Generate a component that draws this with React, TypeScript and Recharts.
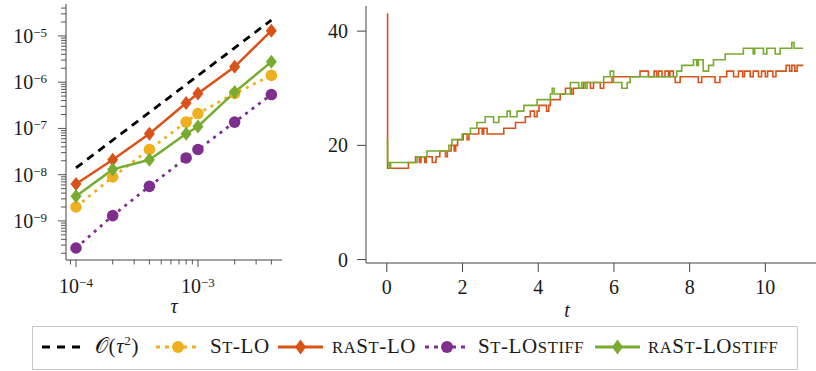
import React from "react";
import { Line, LineChart, XAxis, YAxis } from "recharts";

const SERIF = '"Liberation Serif", "Times New Roman", serif';
const AXIS = "#444";
const INK = "#1a1a1a";
const ORANGE = "#EDB120";
const RED = "#D95319";
const PURPLE = "#7E2F8E";
const GREEN = "#77AC30";

// left panel: error vs step size
const tauValues = [1e-4, 2e-4, 4e-4, 8e-4, 1e-3, 2e-3, 4e-3];
const stLo = [2.0e-9, 8.9e-9, 3.5e-8, 1.37e-7, 2.1e-7, 5.7e-7, 1.4e-6];
const raStLo = [6.3e-9, 2.1e-8, 7.7e-8, 3.55e-7, 5.7e-7, 2.15e-6, 1.3e-5];
const stLoStiff = [2.6e-10, 1.3e-9, 5.6e-9, 2.3e-8, 3.5e-8, 1.37e-7, 5.4e-7];
const raStLoStiff = [3.4e-9, 1.3e-8, 2.1e-8, 7.7e-8, 1.1e-7, 6.1e-7, 2.75e-6];
const refTau = [1e-4, 4e-3];
const refOrder2 = [1.4e-8, 2.2e-5];

const tauMajor = [1e-4, 1e-3];
const errMajor = [1e-9, 1e-8, 1e-7, 1e-6, 1e-5];

// right panel: step histories [t, value]
const raStLoHistory: [number, number][] = [
  [0, 43], [0.02, 16], [0.57, 17], [0.76, 18], [0.86, 17], [0.9, 18], [1.0, 17],
  [1.04, 18], [1.2, 17], [1.3, 18], [1.4, 19], [1.55, 18], [1.6, 19], [1.7, 20],
  [1.78, 19], [1.82, 20], [1.87, 21], [2.02, 22], [2.12, 21], [2.17, 22], [2.43, 23],
  [2.52, 22], [2.56, 23], [2.65, 22], [3.09, 23], [3.4, 24], [3.66, 25], [3.79, 26],
  [3.9, 25], [3.97, 26], [4.02, 27], [4.22, 26], [4.28, 27], [4.32, 28], [4.58, 29],
  [4.72, 30], [4.88, 29], [4.93, 30], [5.2, 31], [5.38, 30], [5.46, 31], [5.64, 30],
  [5.73, 31], [5.95, 32], [6.69, 33], [6.91, 32], [7.06, 33], [7.13, 32], [7.18, 33],
  [7.27, 32], [7.35, 33], [7.44, 32], [7.48, 33], [7.57, 32], [7.62, 31], [7.75, 32],
  [8.23, 31], [8.32, 32], [8.67, 31], [8.8, 32], [8.98, 33], [9.16, 32], [9.29, 33],
  [9.4, 32], [9.45, 33], [9.6, 32], [9.68, 33], [9.82, 32], [9.9, 33], [10.0, 32],
  [10.06, 33], [10.2, 32], [10.28, 33], [10.55, 34], [10.64, 33], [10.7, 34],
  [10.78, 33], [10.84, 34], [11.0, 34],
];
const raStLoStiffHistory: [number, number][] = [
  [0, 21], [0.02, 17], [0.06, 16], [0.1, 17], [0.8, 18], [1.06, 19], [1.64, 20],
  [1.72, 21], [1.99, 22], [2.21, 23], [2.38, 24], [2.6, 25], [2.82, 24], [2.96, 25],
  [3.18, 26], [3.26, 25], [3.44, 26], [3.62, 27], [3.97, 28], [4.32, 29], [4.37, 30],
  [4.42, 29], [4.85, 31], [5.07, 30], [5.15, 31], [5.24, 30], [5.29, 31], [5.73, 32],
  [5.9, 33], [5.99, 31], [6.21, 30], [6.35, 31], [6.43, 32], [7.66, 33], [7.79, 34],
  [8.1, 35], [8.19, 34], [8.23, 35], [8.36, 33], [8.5, 34], [8.63, 35], [8.94, 36],
  [9.42, 37], [9.68, 36], [9.72, 37], [9.95, 36], [10.04, 37], [10.26, 36],
  [10.39, 37], [10.7, 38], [10.76, 37], [11.0, 37],
];
const tTicks = [0, 2, 4, 6, 8, 10];
const countTicks = [0, 20, 40];

const convergenceRows = tauValues.map((tau, i) => ({
  tau,
  stLo: stLo[i],
  raStLo: raStLo[i],
  stLoStiff: stLoStiff[i],
  raStLoStiff: raStLoStiff[i],
}));
const refRows = refTau.map((tau, i) => ({ tau, ref: refOrder2[i] }));
const toRows = (h: [number, number][]) => h.map(([t, v]) => ({ t, v }));

const withMinors = (majors: number[], lo: number, hi: number) => {
  const out: number[] = [];
  [majors[0] / 10, ...majors].forEach((m) => {
    for (let k = 1; k < 10; k++) {
      const v = m * k;
      if (v >= lo && v <= hi) out.push(v);
    }
  });
  return out;
};

const tauDomain: [number, number] = [8.28e-5, 4.89e-3];
const errDomain: [number, number] = [1.43e-10, 4.9e-5];
const tauTicks = withMinors(tauMajor, tauDomain[0], tauDomain[1]);
const errTicks = withMinors(errMajor, errDomain[0], errDomain[1]);

const isDecade = (v: number) => Math.abs(Math.log10(v) - Math.round(Math.log10(v))) < 1e-6;

function Power({ x, y, exp, anchor }: { x: number; y: number; exp: number; anchor: "end" | "middle" }) {
  return (
    <text x={x} y={y} textAnchor={anchor} fontFamily={SERIF} fontSize={20} fill={INK}>
      10
      <tspan fontSize={13} dy={-6}>{`\u2212${-exp}`}</tspan>
    </text>
  );
}

function ErrTick({ x, y, payload }: any) {
  const major = isDecade(payload.value);
  return (
    <g>
      <line x1={x - (major ? 8 : 5)} x2={x} y1={y} y2={y} stroke={AXIS} strokeWidth={0.9} />
      {major && <Power x={x - 19} y={y + 7} exp={Math.round(Math.log10(payload.value))} anchor="end" />}
    </g>
  );
}

function TauTick({ x, y, payload }: any) {
  const major = isDecade(payload.value);
  return (
    <g>
      <line x1={x} x2={x} y1={y} y2={y + (major ? 7 : 4.5)} stroke={AXIS} strokeWidth={0.9} />
      {major && <Power x={x} y={y + 33} exp={Math.round(Math.log10(payload.value))} anchor="middle" />}
    </g>
  );
}

function CountTick({ x, y, payload }: any) {
  return (
    <g>
      <line x1={x - 9} x2={x} y1={y} y2={y} stroke={AXIS} />
      <text x={x - 18} y={y + 7} textAnchor="end" fontFamily={SERIF} fontSize={20} fill={INK}>
        {payload.value}
      </text>
    </g>
  );
}

function TimeTick({ x, y, payload }: any) {
  return (
    <g>
      <line x1={x} x2={x} y1={y} y2={y + 9} stroke={AXIS} />
      <text x={x} y={y + 31} textAnchor="middle" fontFamily={SERIF} fontSize={20} fill={INK}>
        {payload.value}
      </text>
    </g>
  );
}

const circleDot = (color: string) => (p: any) =>
  <circle key={p.index} cx={p.cx} cy={p.cy} r={5.8} fill={color} stroke="none" />;

const diamondDot = (color: string) => (p: any) =>
  (
    <polygon
      key={p.index}
      points={`${p.cx},${p.cy - 7} ${p.cx + 5.5},${p.cy} ${p.cx},${p.cy + 7} ${p.cx - 5.5},${p.cy}`}
      fill={color}
    />
  );

function ConvergencePanel() {
  return (
    <LineChart width={290} height={320} data={convergenceRows} margin={{ top: 4, right: 8, left: 0, bottom: 20 }}>
      <XAxis
        dataKey="tau"
        type="number"
        scale="log"
        domain={tauDomain}
        allowDataOverflow
        ticks={tauTicks}
        interval={0}
        tick={<TauTick />}
        tickLine={false}
        tickSize={0}
        tickMargin={0}
        height={40}
        axisLine={{ stroke: AXIS }}
      />
      <XAxis xAxisId="top" orientation="top" type="number" domain={[0, 1]} tick={false} tickLine={false} height={0} axisLine={{ stroke: AXIS }} />
      <YAxis
        type="number"
        scale="log"
        domain={errDomain}
        allowDataOverflow
        ticks={errTicks}
        interval={0}
        tick={<ErrTick />}
        tickLine={false}
        tickSize={0}
        tickMargin={0}
        width={66}
        axisLine={{ stroke: AXIS }}
      />
      <YAxis yAxisId="right" orientation="right" type="number" domain={[0, 1]} tick={false} tickLine={false} width={0} axisLine={{ stroke: AXIS }} />
      <Line data={refRows} dataKey="ref" stroke="#000" strokeWidth={2.8} strokeDasharray="8 6" dot={false} isAnimationActive={false} />
      <Line dataKey="stLo" stroke={ORANGE} strokeWidth={2.8} strokeDasharray="3 5" dot={circleDot(ORANGE)} isAnimationActive={false} />
      <Line dataKey="raStLo" stroke={RED} strokeWidth={2.5} dot={diamondDot(RED)} isAnimationActive={false} />
      <Line dataKey="stLoStiff" stroke={PURPLE} strokeWidth={2.8} strokeDasharray="3 5" dot={circleDot(PURPLE)} isAnimationActive={false} />
      <Line dataKey="raStLoStiff" stroke={GREEN} strokeWidth={2.5} dot={diamondDot(GREEN)} isAnimationActive={false} />
    </LineChart>
  );
}

function HistoryPanel() {
  return (
    <LineChart width={540} height={320} margin={{ top: 6, right: 6, left: 0, bottom: 17 }}>
      <XAxis
        dataKey="t"
        type="number"
        domain={[-0.55, 11.55]}
        allowDataOverflow
        ticks={tTicks}
        interval={0}
        tick={<TimeTick />}
        tickLine={false}
        tickSize={0}
        tickMargin={0}
        height={40}
        axisLine={{ stroke: AXIS }}
      />
      <XAxis xAxisId="top" orientation="top" type="number" domain={[0, 1]} tick={false} tickLine={false} height={0} axisLine={{ stroke: AXIS }} />
      <YAxis
        type="number"
        domain={[-0.6, 44.4]}
        allowDataOverflow
        ticks={countTicks}
        interval={0}
        tick={<CountTick />}
        tickLine={false}
        tickSize={0}
        tickMargin={0}
        width={76}
        axisLine={{ stroke: AXIS }}
      />
      <Line data={toRows(raStLoHistory)} dataKey="v" type="stepAfter" stroke={RED} strokeWidth={1.6} dot={false} isAnimationActive={false} />
      <Line data={toRows(raStLoStiffHistory)} dataKey="v" type="stepAfter" stroke={GREEN} strokeWidth={1.6} dot={false} isAnimationActive={false} />
    </LineChart>
  );
}

function LegendIcon({ left, width, color, dash, marker }: { left: number; width: number; color: string; dash?: string; marker?: "circle" | "diamond" }) {
  const mid = width / 2;
  return (
    <svg style={{ position: "absolute", left, top: 337 }} width={width} height={20}>
      <line x1={0} x2={width} y1={10} y2={10} stroke={color} strokeWidth={2.8} strokeDasharray={dash} />
      {marker === "circle" && <circle cx={mid} cy={10} r={6} fill={color} />}
      {marker === "diamond" && <polygon points={`${mid},2.5 ${mid + 5.5},10 ${mid},17.5 ${mid - 5.5},10`} fill={color} />}
    </svg>
  );
}

// lowercase letters drawn as small capitals, capitals at full size
function SmallCaps({ text }: { text: string }) {
  const runs = text.match(/[a-z]+|[^a-z]+/g) || [];
  return (
    <>
      {runs.map((r, i) =>
        /[a-z]/.test(r) ? (
          <span key={i} style={{ fontSize: 16.6, textTransform: "uppercase" }}>
            {r}
          </span>
        ) : (
          <span key={i}>{r}</span>
        ),
      )}
    </>
  );
}

function LegendText({ left, children }: { left: number; children: React.ReactNode }) {
  return (
    <div
      style={{
        position: "absolute",
        left,
        top: 336,
        fontFamily: SERIF,
        fontSize: 21,
        lineHeight: "20px",
        letterSpacing: 0.6,
        color: INK,
        whiteSpace: "nowrap",
      }}
    >
      {children}
    </div>
  );
}

export default function App() {
  return (
    <div style={{ position: "absolute", left: 0, top: 0, width: 816, height: 371, overflow: "hidden", background: "#fff" }}>
      <div style={{ position: "absolute", left: 0, top: 0 }}>
        <ConvergencePanel />
      </div>
      <div style={{ position: "absolute", left: 290, top: 0 }}>
        <HistoryPanel />
      </div>
      <svg style={{ position: "absolute", left: 0, top: 0 }} width={816} height={330}>
        <text x={174} y={313} textAnchor="middle" fontFamily={SERIF} fontStyle="italic" fontSize={20} fill={INK}>τ</text>
        <text x={567} y={317} textAnchor="middle" fontFamily={SERIF} fontStyle="italic" fontSize={20} fill={INK}>t</text>
      </svg>
      <div style={{ position: "absolute", left: 32, top: 326, width: 764, height: 42, border: "1px solid #c8c8c8" }} />
      <LegendIcon left={42} width={38} color="#000" dash="8 7" />
      <LegendText left={95}>
        {"\u{1D4AA}("}
        <i>τ</i>
        <sup style={{ fontSize: 13, lineHeight: 0 }}>2</sup>)
      </LegendText>
      <LegendIcon left={156} width={44} color={ORANGE} dash="4 5" marker="circle" />
      <LegendText left={210}>
        <SmallCaps text="St-LO" />
      </LegendText>
      <LegendIcon left={278} width={45} color={RED} marker="diamond" />
      <LegendText left={332}>
        <SmallCaps text="raSt-LO" />
      </LegendText>
      <LegendIcon left={425} width={44} color={PURPLE} dash="4 5" marker="circle" />
      <LegendText left={478}>
        <SmallCaps text="St-LOstiff" />
      </LegendText>
      <LegendIcon left={595} width={45} color={GREEN} marker="diamond" />
      <LegendText left={648}>
        <SmallCaps text="raSt-LOstiff" />
      </LegendText>
    </div>
  );
}
